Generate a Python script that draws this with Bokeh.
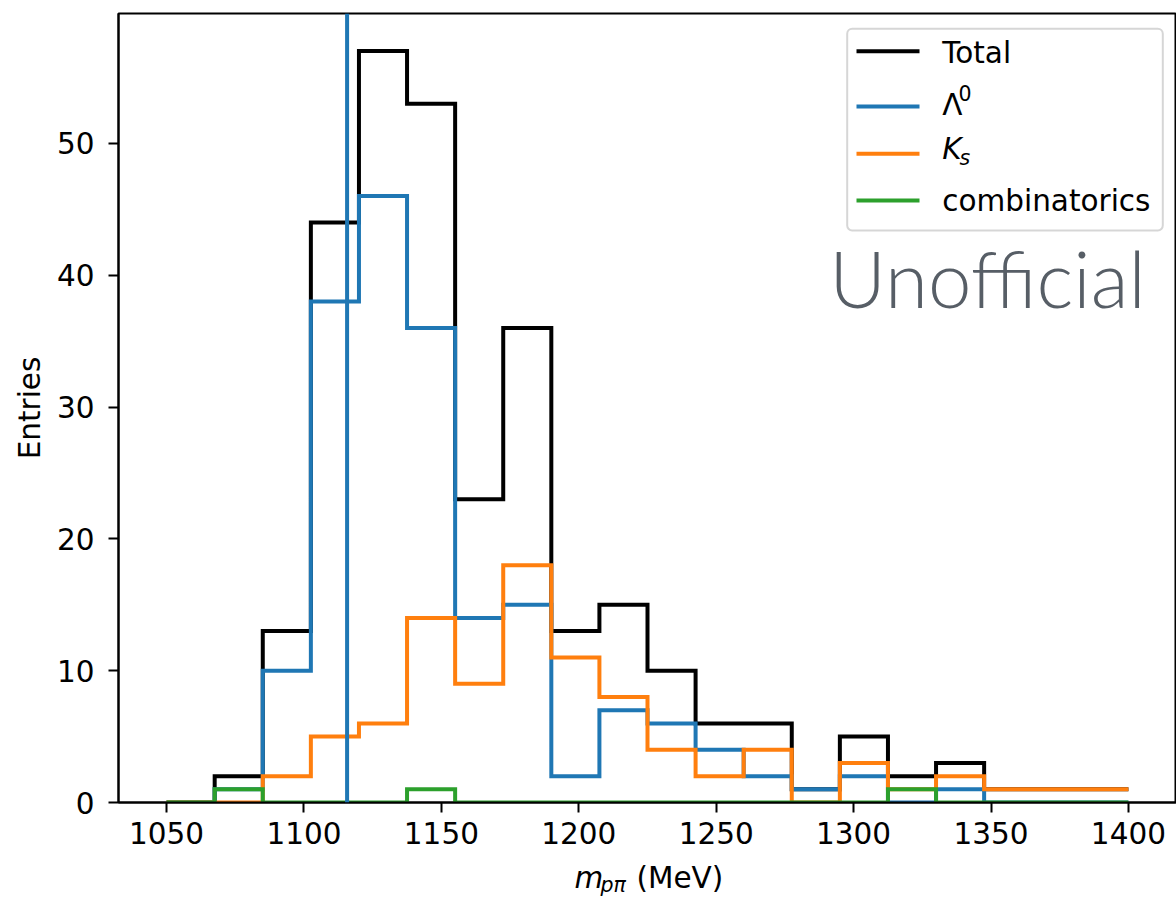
import numpy as np
from bokeh.plotting import figure
from bokeh.layouts import column
from bokeh.models import Range1d, FixedTicker, Span, Label, BoxAnnotation
from bokeh.embed import file_html
from bokeh.resources import INLINE

# ---- data ----
bin_edges = [1050 + 17.5 * k for k in range(21)]
total = [0, 2, 13, 44, 57, 53, 23, 36, 13, 15, 10, 6, 6, 1, 5, 2, 3, 1, 1, 1]
lambda0 = [0, 1, 10, 38, 46, 36, 14, 15, 2, 7, 6, 4, 2, 1, 2, 0, 1, 0, 0, 0]
kshort = [0, 0, 2, 5, 6, 14, 9, 18, 11, 8, 4, 2, 4, 0, 3, 1, 2, 1, 1, 1]
combinatorics = [0, 1, 0, 0, 0, 1, 0, 0, 0, 0, 0, 0, 0, 0, 0, 1, 0, 0, 0, 0]
LAMBDA_MASS = 1115.683
x_ticks = [1050, 1100, 1150, 1200, 1250, 1300, 1350, 1400]
y_ticks = [0, 10, 20, 30, 40, 50]

C_TOTAL = "black"
C_L = "#1f77b4"
C_K = "#ff7f0e"
C_C = "#2ca02c"

FONT = "DejaVu Sans"
FS = "29.5px"
FS_SUB = "20.5px"
LW = 4
# empirical baseline corrections (px) for Label text
D_MAIN = 10.6
D_SUB = 7.4

p = figure(width=1176, height=856, output_backend="svg", toolbar_location=None,
           x_range=Range1d(1032.5, 1417.5), y_range=Range1d(0, 59.85),
           min_border_left=118, min_border_right=0, min_border_top=13,
           min_border_bottom=54)
p.background_fill_color = "white"
p.border_fill_color = "white"
p.grid.visible = False
p.outline_line_color = "black"
p.outline_line_width = 2
p.outline_line_alpha = 1.0


def step_xy(edges, vals):
    e = np.asarray(edges, dtype=float)
    v = np.asarray(vals, dtype=float)
    xs = np.repeat(e, 2)[:-1]
    ys = np.concatenate([[0.0], np.repeat(v, 2)])
    return xs, ys


for vals, col in [(total, C_TOTAL), (lambda0, C_L), (kshort, C_K), (combinatorics, C_C)]:
    xs, ys = step_xy(bin_edges, vals)
    p.line(xs, ys, line_color=col, line_width=LW, line_join="miter")

p.add_layout(Span(location=LAMBDA_MASS, dimension="height", line_color=C_L, line_width=LW))

# axes
for ax in (p.xaxis[0], p.yaxis[0]):
    ax.axis_line_width = 2
    ax.major_tick_line_width = 2
    ax.major_tick_out = 10
    ax.major_tick_in = 0
    ax.minor_tick_line_color = None
    ax.major_label_text_font = FONT
    ax.major_label_text_font_size = FS
    ax.major_label_text_color = "black"

p.xaxis.ticker = FixedTicker(ticks=x_ticks)
p.yaxis.ticker = FixedTicker(ticks=y_ticks)
p.xaxis.major_label_standoff = 9
p.yaxis.major_label_standoff = 14
p.xaxis.axis_label = None
p.yaxis.axis_label = "Entries"
p.yaxis.axis_label_text_font = FONT
p.yaxis.axis_label_text_font_size = FS
p.yaxis.axis_label_text_font_style = "normal"
p.yaxis.axis_label_text_color = "black"
p.yaxis.axis_label_standoff = 7


def lab(fig, text, x, y, size=FS, style="normal", align="left", font=FONT, color="black"):
    fig.add_layout(Label(x=x, y=y, x_units="screen", y_units="screen", text=text,
                         text_font=font, text_font_size=size, text_font_style=style,
                         text_align=align, text_baseline="alphabetic", text_color=color))


# legend
p.add_layout(BoxAnnotation(left=728.7, right=1044.3, top=773.7, bottom=572,
                           left_units="screen", right_units="screen",
                           top_units="screen", bottom_units="screen",
                           fill_color="white", fill_alpha=0.8,
                           line_color="#cccccc", line_alpha=0.8, line_width=2,
                           border_radius=5))
for yc, col in [(751.3, C_TOTAL), (696, C_L), (648.7, C_K), (602, C_C)]:
    p.add_layout(BoxAnnotation(left=738, right=801, top=yc + 2, bottom=yc - 2,
                               left_units="screen", right_units="screen",
                               top_units="screen", bottom_units="screen",
                               fill_color=col, fill_alpha=1.0, line_color=None))
lab(p, "Total", 823.7, 739 + D_MAIN)
lab(p, "\u039b", 823.7, 687 + D_MAIN)
lab(p, "0", 840, 702 + D_SUB, size=FS_SUB)
lab(p, "K", 823.7, 643 + D_MAIN, style="italic")
lab(p, "s", 841, 637 + D_SUB, size=FS_SUB, style="italic")
lab(p, "combinatorics", 823.7, 591 + D_MAIN)

# watermark
lab(p, "Unofficial", 869, 492 + 33, size="78px", align="center", font="Lato Light, Lato",
    color="#575e66")

# x-axis label strip: m_{p pi} (MeV)  (its frame is aligned with the main frame)
q = figure(width=1176, height=42, output_backend="svg", toolbar_location=None,
           x_range=Range1d(0, 1058), y_range=Range1d(0, 42),
           x_axis_type=None, y_axis_type=None, min_border=0)
q.grid.visible = False
q.outline_line_color = None
q.background_fill_color = "white"
q.border_fill_color = "white"
lab(q, "m", 456, 10 + D_MAIN, style="italic")
lab(q, "p\u03c0", 482, 6 + D_SUB, size=FS_SUB, style="italic")
lab(q, "(MeV)", 518, 10 + D_MAIN)

layout = column(p, q, spacing=0)
open("out.html", "w").write(file_html(layout, INLINE))
